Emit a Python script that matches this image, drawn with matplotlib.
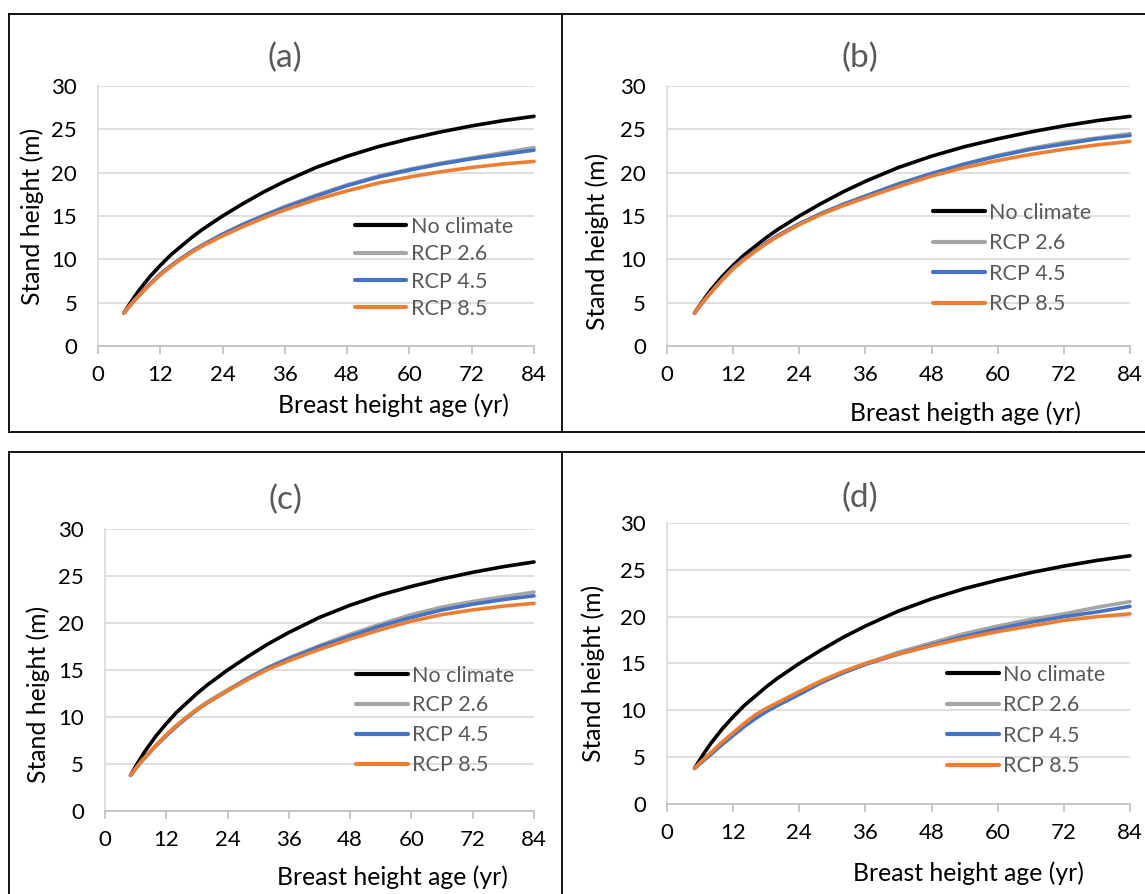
import numpy as np
import matplotlib.pyplot as plt
from matplotlib.lines import Line2D

plt.rcParams["font.family"] = ["Lato", "DejaVu Sans"]

# Breast height age (yr) at which the curves were read
ages = [5, 6, 7, 8, 10, 12, 14, 16, 18, 20, 24, 28, 32, 36, 42, 48, 54, 60, 66, 72, 78, 84]

# Stand height (m), same reference curve in every panel
no_climate = [3.8, 4.75, 5.65, 6.5, 8.0, 9.3, 10.5, 11.5, 12.5, 13.4, 15.0, 16.45, 17.8, 19.0,
              20.6, 21.9, 23.0, 23.9, 24.7, 25.4, 26.0, 26.5]

# panel (a)
a_rcp26 = [3.8, 4.55, 5.25, 5.9, 7.15, 8.3, 9.25, 10.1, 10.9, 11.6, 12.9, 14.05, 15.1, 16.1,
           17.4, 18.6, 19.6, 20.4, 21.1, 21.7, 22.3, 22.9]
a_rcp45 = [3.8, 4.55, 5.25, 5.9, 7.15, 8.3, 9.25, 10.1, 10.9, 11.6, 12.9, 14.05, 15.05, 16.0,
           17.3, 18.5, 19.5, 20.3, 21.0, 21.6, 22.1, 22.6]
a_rcp85 = [3.8, 4.55, 5.25, 5.9, 7.1, 8.2, 9.15, 10.0, 10.8, 11.5, 12.7, 13.8, 14.8, 15.7,
           16.9, 17.9, 18.8, 19.5, 20.1, 20.6, 21.0, 21.3]

# panel (b)
b_rcp26 = [3.8, 4.65, 5.45, 6.2, 7.65, 9.0, 10.05, 11.0, 11.9, 12.7, 14.1, 15.3, 16.35, 17.3,
           18.7, 19.9, 21.0, 22.0, 22.8, 23.5, 24.0, 24.5]
b_rcp45 = [3.8, 4.65, 5.45, 6.2, 7.65, 9.0, 10.05, 11.0, 11.9, 12.7, 14.1, 15.3, 16.35, 17.3,
           18.7, 19.9, 21.0, 21.9, 22.7, 23.3, 23.9, 24.3]
b_rcp85 = [3.8, 4.65, 5.45, 6.2, 7.6, 8.9, 9.95, 10.9, 11.8, 12.6, 14.0, 15.2, 16.2, 17.1,
           18.4, 19.6, 20.6, 21.4, 22.1, 22.7, 23.2, 23.6]

# panel (c)
c_rcp26 = [3.8, 4.5, 5.2, 5.8, 7.0, 8.1, 9.1, 10.0, 10.85, 11.6, 12.9, 14.15, 15.3, 16.3,
           17.6, 18.8, 19.9, 20.9, 21.7, 22.3, 22.8, 23.3]
c_rcp45 = [3.8, 4.5, 5.2, 5.8, 6.95, 8.0, 9.0, 9.9, 10.75, 11.5, 12.8, 14.1, 15.25, 16.2,
           17.5, 18.6, 19.7, 20.6, 21.4, 22.0, 22.5, 22.9]
c_rcp85 = [3.8, 4.5, 5.2, 5.8, 7.0, 8.1, 9.1, 10.0, 10.8, 11.5, 12.8, 14.0, 15.1, 16.0,
           17.2, 18.3, 19.3, 20.2, 20.9, 21.4, 21.8, 22.1]

# panel (d)
d_rcp26 = [3.8, 4.35, 4.9, 5.4, 6.5, 7.5, 8.45, 9.3, 10.05, 10.7, 11.9, 13.05, 14.1, 15.0,
           16.2, 17.2, 18.2, 19.0, 19.7, 20.3, 21.0, 21.6]
d_rcp45 = [3.8, 4.3, 4.8, 5.3, 6.35, 7.3, 8.25, 9.1, 9.85, 10.5, 11.7, 12.95, 14.0, 14.9,
           16.0, 17.0, 17.9, 18.7, 19.4, 20.0, 20.5, 21.1]
d_rcp85 = [3.8, 4.4, 4.95, 5.5, 6.6, 7.6, 8.6, 9.5, 10.2, 10.8, 12.0, 13.15, 14.15, 15.0,
           16.0, 16.9, 17.7, 18.4, 19.0, 19.6, 20.0, 20.3]

series_names = ["No climate", "RCP 2.6", "RCP 4.5", "RCP 8.5"]
series_colors = ["#000000", "#A5A5A5", "#4472C4", "#ED7D31"]

panel_titles = ["(a)", "(b)", "(c)", "(d)"]
x_labels = ["Breast height age (yr)", "Breast heigth age (yr)",
            "Breast height age (yr)", "Breast height age (yr)"]
panel_data = [
    [no_climate, a_rcp26, a_rcp45, a_rcp85],
    [no_climate, b_rcp26, b_rcp45, b_rcp85],
    [no_climate, c_rcp26, c_rcp45, c_rcp85],
    [no_climate, d_rcp26, d_rcp45, d_rcp85],
]

# layout (figure fractions) and text placement (axes fractions)
axes_rects = [
    [0.0856, 0.6130, 0.3808, 0.2908],
    [0.5825, 0.6130, 0.4044, 0.2908],
    [0.0917, 0.0928, 0.3747, 0.3154],
    [0.5825, 0.1007, 0.4044, 0.3143],
]
title_pos = [(0.429, 1.108), (0.417, 1.108), (0.420, 1.103), (0.417, 1.089)]
xlabel_pos = [(0.677, -0.227), (0.644, -0.258), (0.671, -0.234), (0.652, -0.246)]
ylabel_pos = [(-0.151, 0.500), (-0.151, 0.404), (-0.156, 0.415), (-0.160, 0.463)]
legend_pos = [(0.589, 0.496), (0.575, 0.551), (0.585, 0.516), (0.605, 0.496)]
legend_gap = [0.34, 0.49, 0.46, 0.49]

fig = plt.figure(figsize=(11.45, 8.94), dpi=100)

# chart frames
frame = dict(color="black", lw=1.3, transform=fig.transFigure)
for y in [0.9843, 0.5168, 0.4944]:
    fig.add_artist(Line2D([0.0079, 1.0], [y, y], **frame))
for x in [0.0079, 0.4908]:
    fig.add_artist(Line2D([x, x], [0.5168, 0.9843], **frame))
    fig.add_artist(Line2D([x, x], [0.0, 0.4944], **frame))

for i in range(4):
    ax = fig.add_axes(axes_rects[i])
    for vals, name, col in zip(panel_data[i], series_names, series_colors):
        ax.plot(ages, vals, color=col, lw=2.6, label=name,
                solid_capstyle="round", solid_joinstyle="round", clip_on=False)

    ax.set_xlim(0, 84)
    ax.set_ylim(0, 30)
    ax.set_xticks(np.arange(0, 85, 12))
    ax.set_yticks(np.arange(0, 31, 5))
    ax.grid(axis="y", color="#D9D9D9", lw=1.2)
    ax.set_axisbelow(True)
    for s in ["top", "right"]:
        ax.spines[s].set_visible(False)
    ax.spines["left"].set_color("#D9D9D9")
    ax.spines["left"].set_linewidth(1.2)
    ax.spines["bottom"].set_color("#BFBFBF")
    ax.spines["bottom"].set_linewidth(1.2)
    ax.tick_params(axis="y", length=0, pad=15, labelsize=16)
    ax.tick_params(axis="x", length=6, width=1.2, color="#BFBFBF",
                   pad=8, labelsize=16)

    ax.text(*title_pos[i], panel_titles[i], transform=ax.transAxes,
            ha="center", va="center", fontsize=24, color="#595959")
    ax.text(*xlabel_pos[i], x_labels[i], transform=ax.transAxes,
            ha="center", va="center", fontsize=17.8)
    ax.text(*ylabel_pos[i], "Stand height (m)", transform=ax.transAxes,
            ha="center", va="center", rotation=90, fontsize=17.8)

    leg = ax.legend(loc="upper left", bbox_to_anchor=legend_pos[i],
                    frameon=False, fontsize=15.5, handlelength=2.4,
                    handletextpad=0.2, labelspacing=legend_gap[i],
                    borderpad=0, borderaxespad=0)
    for t in leg.get_texts():
        t.set_color("#595959")
    for h in leg.get_lines():
        h.set_linewidth(3.0)

fig.savefig("out.png", dpi=100)
